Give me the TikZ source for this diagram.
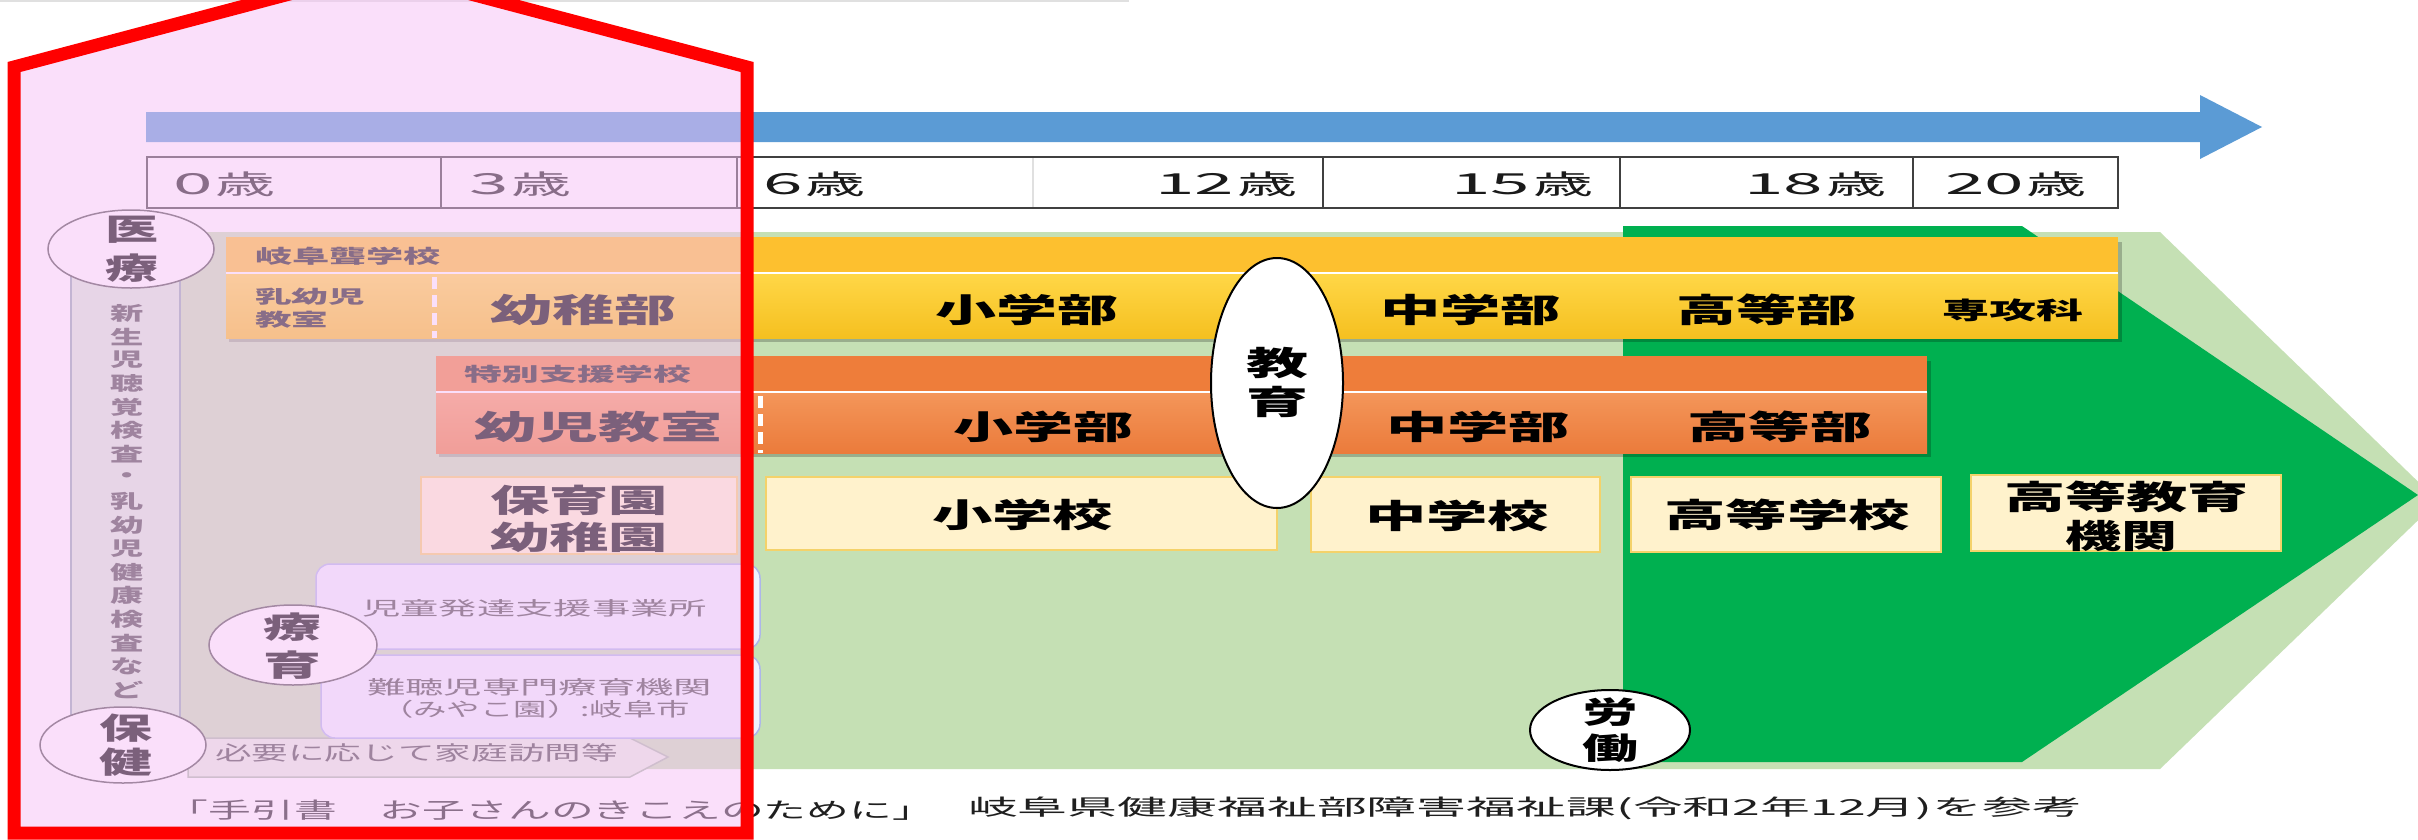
\documentclass[tikz,border=0pt]{standalone}
\usepackage{fontspec}
\usepackage{graphicx}
\newfontfamily\jp{Noto Sans CJK JP}
\usetikzlibrary{shapes.geometric}
\definecolor{arrowblue}{HTML}{5B9BD5}
\definecolor{agegray}{HTML}{404040}
\definecolor{palegreen}{HTML}{C5E0B4}
\definecolor{dkgreen}{HTML}{00B050}
\definecolor{ylhead}{HTML}{FDC02F}
\definecolor{ylbodytop}{HTML}{FFD747}
\definecolor{ylbodybot}{HTML}{F5C020}
\definecolor{orghead}{HTML}{EE7D3A}
\definecolor{orgbodytop}{HTML}{F4965A}
\definecolor{orgbodybot}{HTML}{EB7B3B}
\definecolor{pyfill}{HTML}{FFF2CC}
\definecolor{pyedge}{HTML}{F4D26A}
\definecolor{bxfill}{HTML}{EEF1FF}
\definecolor{bxedge}{HTML}{ADB6EA}
\definecolor{stripfill}{HTML}{D8EBD8}
\definecolor{stripedge}{HTML}{8FA8B0}
\definecolor{arrfill}{HTML}{E6EEDF}
\definecolor{arredge}{HTML}{A8BCA5}
\definecolor{pinkov}{HTML}{F7C1F7}
\definecolor{ellgray}{HTML}{505050}
\definecolor{txtgray}{HTML}{1A1A1A}
\definecolor{redline}{HTML}{FF0000}
\newcommand\tw[3]{\resizebox{#1pt}{\height}{\fontsize{#2pt}{#2pt}\selectfont #3}}
\newcommand\sx[3]{\scalebox{#1}[1]{\fontsize{#2pt}{#2pt}\selectfont #3}}
\newcommand\agelbl[1]{\sx{2.45}{29}{#1}\hspace{3pt}\tw{60}{27}{歳}}
\tikzset{
  pybox/.style={fill=pyfill, draw=pyedge, line width=2pt},
  bxbox/.style={fill=bxfill, draw=bxedge, line width=1.5pt, rounded corners=14pt},
  ellL/.style={ellipse, draw=ellgray, fill=white, line width=1.5pt},
  ellB/.style={ellipse, draw=black, fill=white, line width=2pt},
  shadow/.style={fill=black, opacity=0.22},
  wdash/.style={draw=white, line width=5pt, dash pattern=on 12pt off 6pt},
  agediv/.style={draw=agegray, line width=1.5pt},
}
\begin{document}
\begin{tikzpicture}[x=1pt,y=-1pt, every node/.style={inner sep=0pt,outer sep=0pt,font=\jp}]
\useasboundingbox (0,0) rectangle (2418,839);
\clip (0,0) rectangle (2418,839);
\fill[white] (0,0) rectangle (2418,839);
% top faint line
\draw[black!12, line width=2pt] (0,1) -- (1129,1);
% blue timeline arrow
\fill[arrowblue] (146,112) -- (2200,112) -- (2200,95) -- (2262,127) -- (2200,159) -- (2200,142) -- (146,142) -- cycle;
% age row
\draw[agediv, fill=white] (147,157) rectangle (2118,208);
\foreach \xx in {441,737,1323,1620,1913} \draw[agediv] (\xx,157) -- (\xx,208);
\draw[black!12, line width=1.5pt] (1033,158) -- (1033,207);
% green regions
\fill[palegreen] (181,232) -- (2160,232) -- (2438,501) -- (2160,769) -- (181,769) -- cycle;
\fill[dkgreen] (1623,226) -- (2022,226) -- (2418,495) -- (2022,762) -- (1623,762) -- cycle;
% home visit arrow
\draw[fill=arrfill, draw=arredge, line width=1.5pt] (188,738) -- (630,738) -- (668,757) -- (630,777) -- (188,777) -- cycle;
% vertical strip
\draw[fill=stripfill, draw=stripedge, line width=1.5pt] (71,262) rectangle (180,722);
% yellow band (deaf school)
\fill[shadow] (229,242) rectangle (2122,342);
\fill[ylhead] (226,237) rectangle (2118,273);
\shade[top color=ylbodytop, bottom color=ylbodybot] (226,273) rectangle (2118,338);
\draw[white, line width=2.5pt] (226,273) -- (2118,273);
\draw[wdash] (434,277) -- (434,338);
% orange band (special support school)
\fill[shadow] (439,361) rectangle (1931,457);
\fill[orghead] (436,356) rectangle (1927,392);
\shade[top color=orgbodytop, bottom color=orgbodybot] (436,392) rectangle (1927,453);
\draw[white, line width=2.5pt] (436,392) -- (1927,392);
\draw[wdash] (760,396) -- (760,453);
% pale yellow boxes
\draw[pybox] (421,477) rectangle (737,554);
\draw[pybox] (766,477) rectangle (1277,550);
\draw[pybox] (1311,477) rectangle (1600,552);
\draw[pybox] (1631,477) rectangle (1941,552);
\draw[pybox] (1971,475) rectangle (2281,551);
% blue boxes
\draw[bxbox] (316,564) rectangle (760,649);
\draw[bxbox] (321,655) rectangle (760,738);
% ellipses
\node[ellL, minimum width=166pt, minimum height=78pt] (iryoE) at (131,249) {};
\node[ellL, minimum width=168pt, minimum height=80pt] (ryoikuE) at (293,645) {};
\node[ellL, minimum width=166pt, minimum height=76pt] (hokenE) at (123,745) {};
\node[ellB, minimum width=132pt, minimum height=250pt] (kyoikuE) at (1277,383) {};
\node[ellB, minimum width=160pt, minimum height=80pt] (rodoE) at (1610,730) {};
% age labels
\begin{scope}[every node/.append style={text=txtgray}]
\node[anchor=west] (a0) at (173,184) {\agelbl{0}};
\node[anchor=west] (a3) at (469,184) {\agelbl{3}};
\node[anchor=west] (a6) at (763,184) {\agelbl{6}};
\node[anchor=east] (a12) at (1297,184) {\agelbl{12}};
\node[anchor=east] (a15) at (1593,184) {\agelbl{15}};
\node[anchor=east] (a18) at (1886,184) {\agelbl{18}};
\node[anchor=west] (a20) at (1945,184) {\agelbl{20}};
\end{scope}
% yellow band texts
\node[text=txtgray] (gifuro) at (348,256) {\tw{186}{19}{\bfseries 岐阜聾学校}};
\node[text=txtgray] (nyu1) at (310,297) {\tw{110}{18}{\bfseries 乳幼児}};
\node[text=txtgray] (nyu2) at (291.5,320) {\tw{73}{18}{\bfseries 教室}};
\node (ybu1) at (583,310) {\tw{186}{33}{\bfseries 幼稚部}};
\node (ybu2) at (1026.5,310) {\tw{183}{33}{\bfseries 小学部}};
\node (ybu3) at (1470.5,310) {\tw{181}{33}{\bfseries 中学部}};
\node (ybu4) at (1766.5,310) {\tw{181}{33}{\bfseries 高等部}};
\node (ybu5) at (2012.5,310) {\tw{141}{24}{\bfseries 専攻科}};
% orange band texts
\node[text=txtgray] (tokubetsu) at (577.5,374) {\tw{227}{19}{\bfseries 特別支援学校}};
\node (obu1) at (598,427) {\tw{248}{33}{\bfseries 幼児教室}};
\node (obu2) at (1043,427) {\tw{180}{33}{\bfseries 小学部}};
\node (obu3) at (1478,427) {\tw{184}{33}{\bfseries 中学部}};
\node (obu4) at (1779.5,427) {\tw{185}{33}{\bfseries 高等部}};
% pale yellow box texts
\node (hoiku) at (579,500) {\tw{178}{32}{\bfseries 保育園}};
\node (youchien) at (579,537) {\tw{178}{32}{\bfseries 幼稚園}};
\node (shogakko) at (1022.5,515) {\tw{181}{33}{\bfseries 小学校}};
\node (chugakko) at (1457,516) {\tw{184}{33}{\bfseries 中学校}};
\node (kotogakko) at (1787,515) {\tw{246}{33}{\bfseries 高等学校}};
\node (kotokyoiku) at (2126.5,497) {\tw{245}{33}{\bfseries 高等教育}};
\node (kikan) at (2121,536) {\tw{112}{33}{\bfseries 機関}};
% blue box texts
\begin{scope}[every node/.append style={text=black!72}]
\node (jido) at (534.5,608) {\tw{345}{19}{児童発達支援事業所}};
\node (nancho1) at (539.5,687) {\tw{345}{19}{難聴児専門療育機関}};
\node (nancho2) at (535,709) {\tw{310}{19}{（みやこ園）:岐阜市}};
\node (homon) at (416.5,753) {\tw{403}{20}{必要に応じて家庭訪問等}};
\end{scope}
% ellipse texts
\node (kyo1) at (1277,363) {\tw{62}{33}{\bfseries 教}};
\node (kyo2) at (1277,402) {\tw{62}{33}{\bfseries 育}};
\node (ro1) at (1610,712) {\tw{56}{30}{\bfseries 労}};
\node (ro2) at (1610,748) {\tw{56}{30}{\bfseries 働}};
\node (iryo1) at (132,230) {\tw{53}{30}{\bfseries 医}};
\node (iryo2) at (132,268) {\tw{53}{30}{\bfseries 療}};
\node (ryo1) at (292,627) {\tw{58}{30}{\bfseries 療}};
\node (ryo2) at (292,665) {\tw{58}{30}{\bfseries 育}};
\node (ho1) at (126,728) {\tw{53}{30}{\bfseries 保}};
\node (ho2) at (126,762) {\tw{53}{30}{\bfseries 健}};
% strip text
\foreach \c [count=\i from 0] in {新,生,児,聴,覚,検,査,・,乳,幼,児,健,康,検,査,な,ど}
  \node[text=black!72] (st\i) at (127,{313+23.56*\i}) {\sx{1.75}{19}{\bfseries\c}};
% footer
\node[text=black!88] (foot1) at (550.5,810) {\tw{769}{22}{「手引書　お子さんのきこえのために」}};
\node[text=black!88] (foot2) at (1525,808) {\tw{1114}{22}{岐阜県健康福祉部障害福祉課(令和2年12月)を参考}};
% pink overlay with red outline
\fill[pinkov, opacity=0.5] (14,67) -- (380,-30) -- (747,67) -- (747,833) -- (14,833) -- cycle;
\draw[redline, line width=13pt, line join=miter] (14,67) -- (380,-30) -- (747,67) -- (747,833) -- (14,833) -- cycle;
\end{tikzpicture}
\end{document}
